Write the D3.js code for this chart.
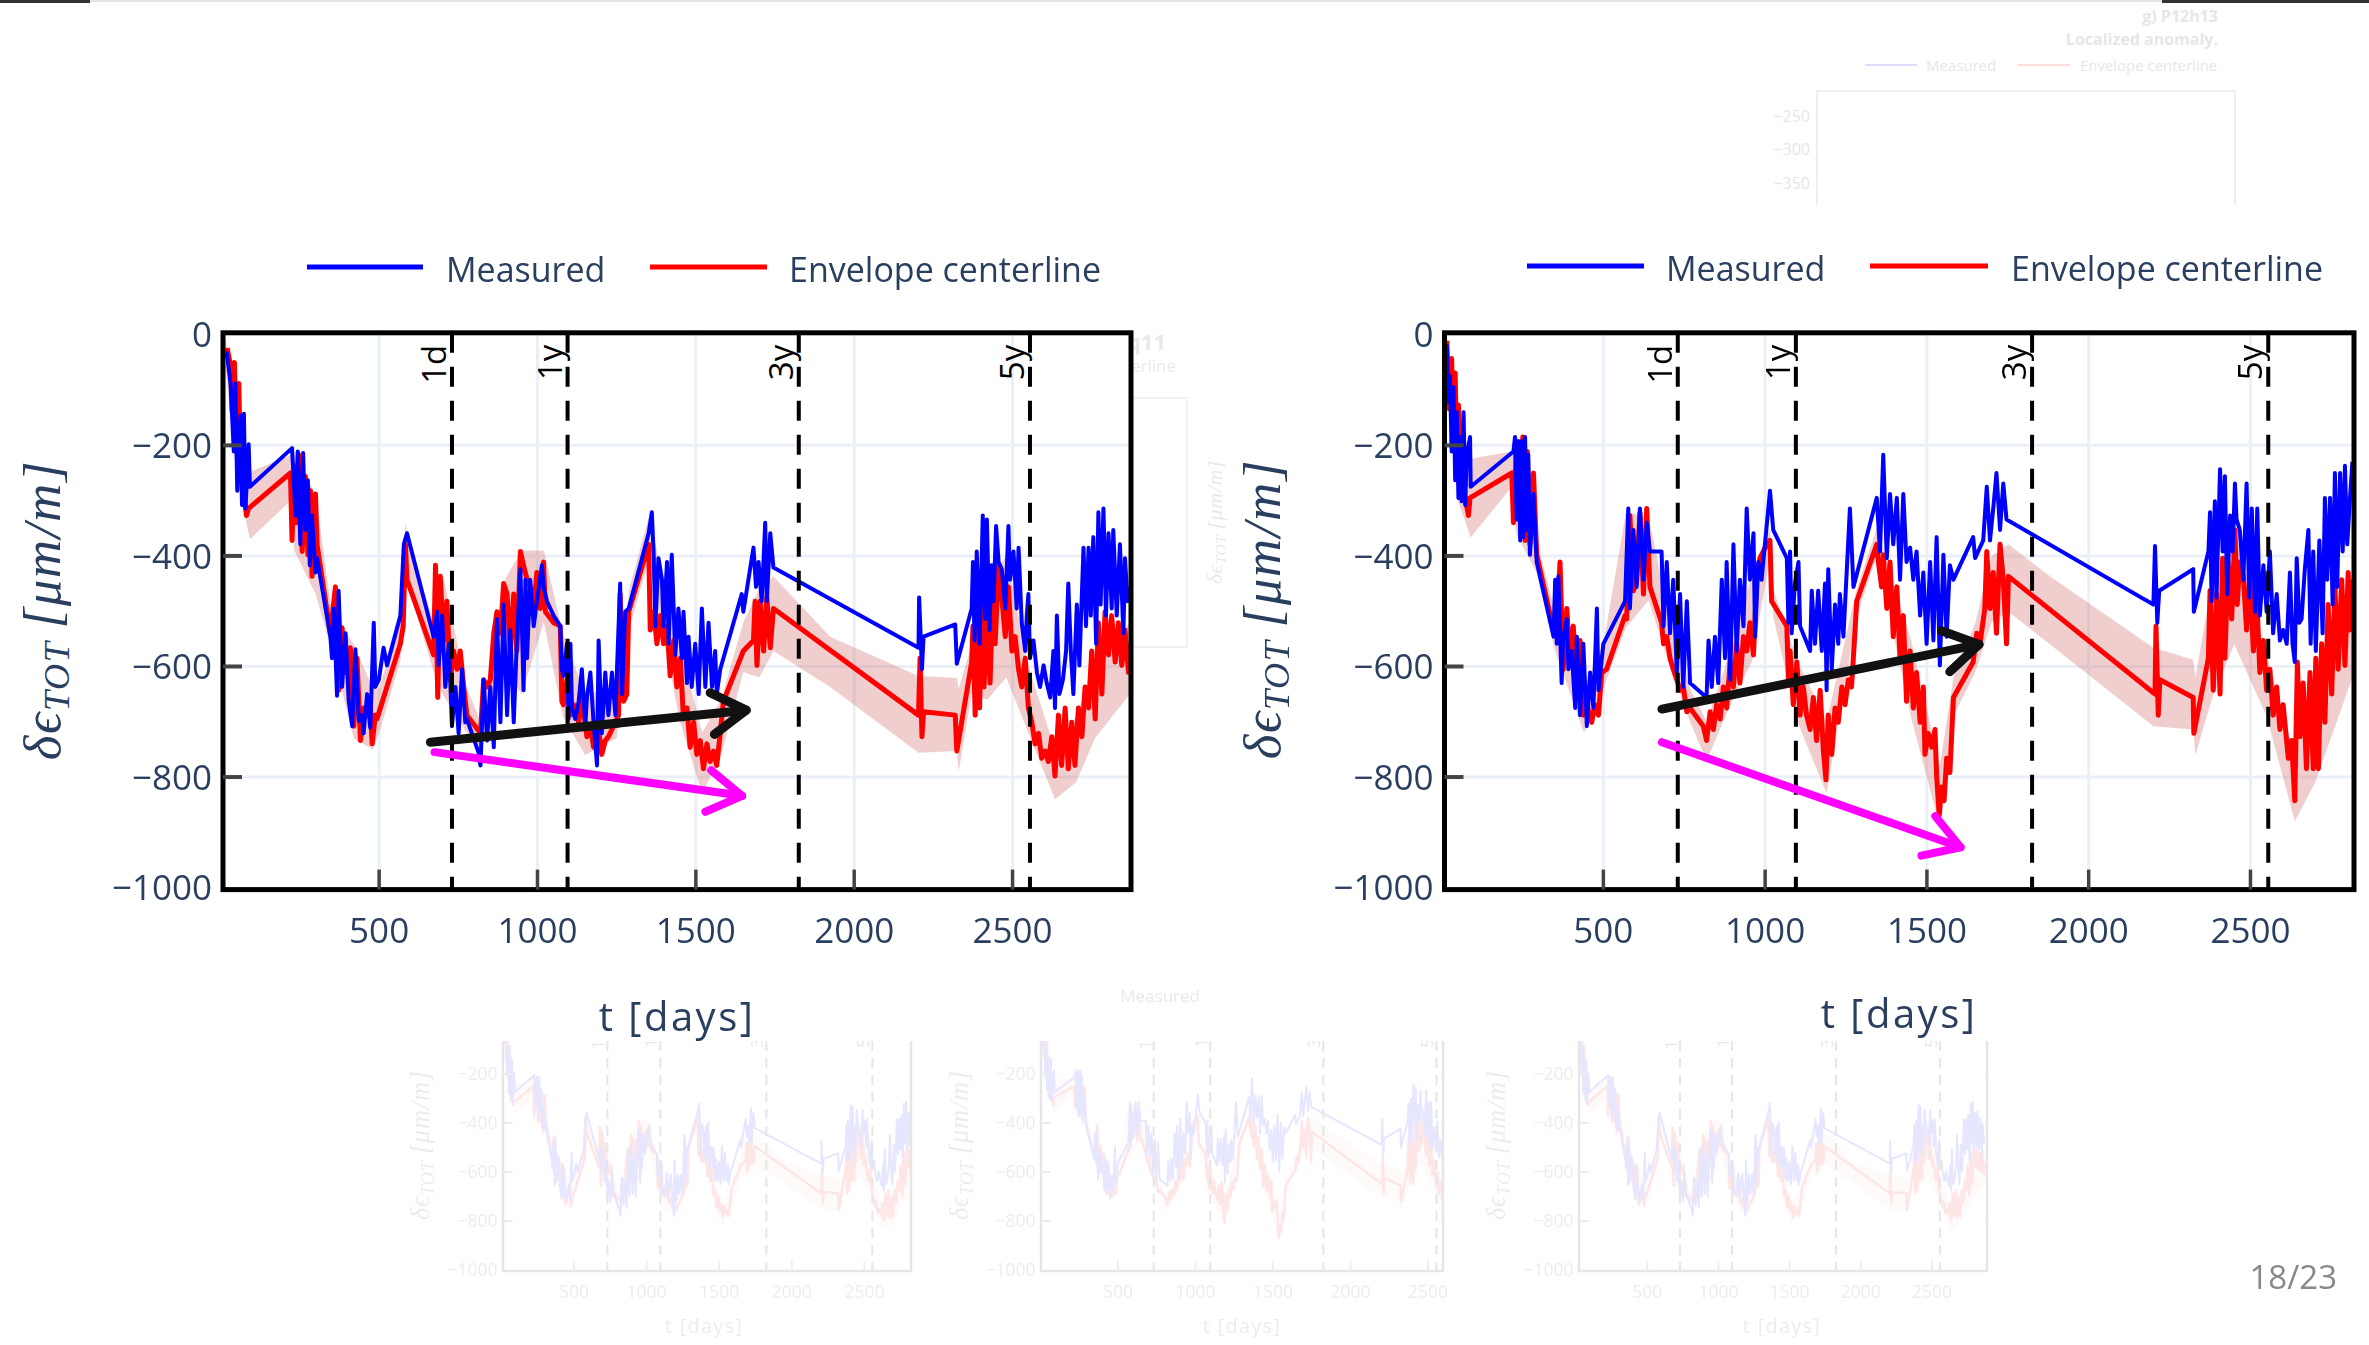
<!DOCTYPE html>
<html>
<head>
<meta charset="utf-8">
<title>Measured vs envelope centerline</title>
<script src="https://cdn.jsdelivr.net/npm/d3@7"></script>
<style>
  body { margin: 0; background: #fff; }
  text { font-family: 'Open Sans', sans-serif; }
</style>
</head>
<body>
<svg id="slide" width="2369" height="1345"></svg>
<script>
// ---------- data (t in days, strain in um/m) ----------
var leftMeasured = [[18,-30],[31,-88],[41,-211],[46,-88],[52,-282],[62,-146],[67,-308],[73,-143],[78,-314],[88,-198],[92,-275],[225,-205],[236,-327],[243,-211],[251,-379],[260,-214],[267,-353],[275,-263],[281,-417],[288,-327],[299,-430],[304,-404],[346,-546],[351,-585],[357,-495],[367,-653],[372,-463],[383,-637],[394,-540],[404,-663],[415,-708],[425,-569],[436,-698],[446,-688],[451,-721],[462,-650],[472,-711],[483,-521],[488,-637],[499,-624],[514,-566],[525,-598],[567,-508],[578,-379],[588,-359],[672,-546],[683,-501],[688,-598],[699,-508],[709,-637],[720,-559],[730,-708],[741,-637],[751,-721],[762,-605],[772,-701],[777,-695],[814,-756],[820,-779],[830,-624],[841,-734],[851,-637],[862,-746],[872,-514],[883,-701],[893,-488],[904,-688],[914,-534],[925,-701],[935,-553],[946,-424],[956,-643],[962,-443],[967,-585],[977,-443],[988,-527],[998,-482],[1014,-417],[1019,-456],[1030,-482],[1051,-508],[1072,-527],[1077,-605],[1082,-617],[1093,-559],[1098,-695],[1104,-559],[1109,-675],[1119,-695],[1130,-663],[1140,-605],[1151,-708],[1156,-656],[1167,-611],[1177,-701],[1188,-779],[1193,-553],[1203,-721],[1214,-611],[1224,-688],[1235,-611],[1246,-688],[1251,-605],[1261,-450],[1267,-650],[1277,-501],[1288,-495],[1351,-359],[1361,-321],[1367,-398],[1372,-527],[1382,-404],[1393,-443],[1398,-527],[1409,-411],[1414,-559],[1424,-398],[1435,-579],[1445,-495],[1456,-585],[1461,-501],[1472,-630],[1477,-546],[1487,-637],[1498,-559],[1509,-650],[1519,-495],[1530,-637],[1540,-521],[1551,-637],[1561,-572],[1566,-650],[1577,-605],[1645,-469],[1650,-501],[1682,-385],[1690,-456],[1698,-411],[1708,-482],[1719,-340],[1724,-482],[1735,-359],[1745,-421],[2203,-566],[2205,-475],[2214,-605],[2219,-546],[2319,-524],[2324,-595],[2371,-495],[2375,-411],[2380,-553],[2387,-392],[2396,-559],[2406,-327],[2413,-514],[2419,-334],[2427,-534],[2434,-417],[2440,-482],[2448,-346],[2456,-411],[2466,-424],[2477,-495],[2487,-346],[2492,-443],[2503,-392],[2513,-495],[2519,-385],[2529,-521],[2540,-572],[2545,-508],[2550,-469],[2555,-585],[2566,-553],[2577,-611],[2587,-637],[2598,-598],[2608,-630],[2619,-656],[2629,-572],[2634,-675],[2640,-508],[2648,-650],[2659,-624],[2669,-572],[2676,-450],[2684,-572],[2692,-650],[2703,-488],[2711,-598],[2724,-385],[2732,-527],[2740,-385],[2747,-508],[2755,-366],[2764,-559],[2771,-321],[2778,-488],[2787,-314],[2795,-508],[2803,-359],[2813,-495],[2818,-353],[2829,-508],[2839,-379],[2850,-540],[2855,-404],[2863,-482],[2871,-456]];

var leftEnvelope = [[20,-24],[31,-56],[36,-140],[43,-50],[50,-205],[57,-88],[62,-237],[67,-172],[75,-295],[81,-327],[88,-314],[220,-250],[225,-372],[233,-237],[239,-340],[246,-217],[257,-392],[267,-256],[275,-398],[283,-282],[288,-437],[299,-288],[304,-379],[346,-540],[362,-456],[372,-643],[383,-530],[394,-611],[409,-566],[420,-708],[430,-585],[441,-734],[451,-675],[462,-688],[472,-669],[478,-740],[488,-688],[493,-695],[567,-559],[576,-527],[583,-379],[588,-443],[672,-579],[678,-417],[685,-656],[693,-437],[704,-553],[714,-482],[725,-624],[735,-572],[746,-605],[756,-572],[767,-637],[777,-688],[820,-721],[830,-624],[841,-637],[851,-624],[862,-540],[872,-501],[883,-540],[893,-450],[904,-469],[914,-572],[925,-469],[935,-572],[946,-392],[956,-417],[967,-443],[977,-456],[988,-495],[998,-430],[1009,-495],[1019,-411],[1025,-501],[1051,-521],[1072,-527],[1077,-663],[1082,-669],[1093,-624],[1104,-688],[1114,-669],[1130,-701],[1140,-656],[1156,-727],[1167,-708],[1177,-746],[1193,-714],[1203,-759],[1214,-734],[1224,-727],[1235,-714],[1246,-701],[1256,-688],[1261,-469],[1272,-663],[1282,-650],[1288,-501],[1351,-379],[1356,-534],[1367,-501],[1377,-559],[1388,-508],[1398,-559],[1409,-527],[1419,-617],[1430,-553],[1440,-637],[1451,-585],[1461,-695],[1472,-675],[1482,-746],[1493,-701],[1503,-759],[1514,-734],[1524,-785],[1535,-740],[1545,-772],[1556,-753],[1566,-779],[1577,-721],[1587,-663],[1650,-572],[1682,-553],[1687,-482],[1693,-598],[1703,-482],[1714,-572],[1724,-475],[1735,-566],[1745,-495],[2203,-688],[2208,-585],[2214,-727],[2219,-682],[2319,-688],[2324,-753],[2371,-592],[2375,-527],[2382,-688],[2389,-527],[2396,-675],[2403,-482],[2410,-637],[2419,-508],[2429,-630],[2438,-456],[2445,-559],[2456,-417],[2466,-475],[2477,-546],[2487,-456],[2498,-572],[2508,-546],[2519,-605],[2529,-637],[2540,-585],[2550,-675],[2561,-701],[2571,-740],[2582,-721],[2592,-766],[2603,-753],[2613,-772],[2624,-727],[2634,-798],[2645,-688],[2655,-779],[2666,-675],[2676,-785],[2687,-701],[2697,-779],[2708,-675],[2719,-727],[2729,-637],[2740,-675],[2750,-572],[2761,-695],[2771,-521],[2782,-650],[2792,-501],[2803,-579],[2813,-508],[2824,-592],[2834,-521],[2845,-598],[2855,-534],[2866,-611],[2871,-559]];

// envelope band: [t, lower, upper]
var leftBand = [[15,-60,-5],[50,-260,-120],[92,-370,-248],[220,-300,-218],[232,-390,-215],[300,-470,-290],[350,-570,-500],[420,-730,-560],[480,-750,-640],[500,-720,-640],[567,-590,-510],[583,-430,-340],[600,-470,-390],[672,-610,-520],[700,-650,-430],[777,-720,-640],[820,-745,-700],[900,-610,-440],[950,-650,-390],[1020,-520,-390],[1080,-690,-540],[1150,-760,-650],[1250,-730,-640],[1290,-530,-460],[1351,-410,-330],[1450,-700,-560],[1520,-830,-720],[1580,-760,-660],[1650,-610,-520],[1700,-620,-460],[1745,-572,-437],[1924,-637,-546],[2203,-756,-617],[2324,-753,-621],[2330,-790,-640],[2371,-650,-560],[2420,-660,-450],[2480,-620,-400],[2550,-720,-600],[2634,-840,-750],[2700,-810,-690],[2760,-730,-600],[2871,-650,-520]];

var rightMeasured = [[16,-17],[21,-121],[26,-75],[31,-211],[37,-95],[42,-263],[47,-140],[52,-295],[57,-185],[62,-301],[68,-140],[73,-308],[78,-217],[88,-185],[90,-275],[222,-211],[227,-185],[232,-334],[237,-192],[243,-372],[248,-192],[253,-366],[258,-185],[263,-353],[268,-217],[273,-398],[284,-288],[294,-411],[346,-546],[351,-443],[356,-559],[361,-437],[371,-630],[376,-546],[387,-514],[392,-605],[402,-572],[413,-675],[418,-546],[428,-688],[438,-559],[449,-708],[459,-611],[469,-675],[480,-495],[485,-643],[500,-559],[567,-482],[577,-314],[582,-495],[593,-353],[603,-456],[613,-314],[624,-443],[634,-340],[644,-392],[680,-392],[686,-527],[696,-411],[706,-540],[716,-443],[727,-611],[737,-469],[747,-637],[758,-482],[768,-630],[819,-656],[825,-553],[835,-637],[845,-546],[855,-630],[866,-443],[876,-585],[881,-411],[892,-624],[902,-379],[912,-572],[922,-443],[933,-527],[943,-314],[953,-443],[964,-359],[969,-546],[979,-411],[989,-443],[1015,-282],[1025,-353],[1067,-404],[1072,-521],[1077,-392],[1082,-540],[1092,-450],[1103,-411],[1108,-527],[1139,-572],[1144,-463],[1154,-559],[1164,-463],[1175,-572],[1185,-450],[1190,-643],[1195,-424],[1206,-605],[1216,-488],[1226,-559],[1231,-469],[1242,-546],[1252,-430],[1262,-314],[1273,-456],[1345,-295],[1355,-392],[1365,-217],[1376,-404],[1386,-288],[1396,-379],[1407,-295],[1417,-443],[1427,-288],[1437,-411],[1448,-385],[1458,-443],[1468,-392],[1479,-508],[1489,-430],[1499,-559],[1510,-411],[1520,-553],[1530,-366],[1540,-598],[1551,-398],[1561,-546],[1571,-417],[1582,-443],[1643,-366],[1649,-404],[1674,-372],[1685,-275],[1695,-372],[1705,-314],[1715,-250],[1726,-353],[1736,-269],[1746,-334],[2200,-488],[2205,-382],[2212,-521],[2218,-463],[2323,-424],[2325,-501],[2370,-392],[2375,-321],[2380,-482],[2390,-301],[2395,-475],[2406,-243],[2414,-392],[2421,-256],[2428,-469],[2437,-327],[2445,-392],[2452,-269],[2457,-334],[2467,-353],[2478,-443],[2488,-269],[2496,-475],[2504,-314],[2514,-501],[2521,-314],[2529,-508],[2540,-417],[2550,-501],[2560,-392],[2570,-540],[2581,-469],[2591,-553],[2601,-534],[2612,-559],[2622,-430],[2630,-559],[2637,-592],[2643,-404],[2651,-521],[2658,-514],[2668,-424],[2679,-353],[2686,-559],[2694,-392],[2702,-572],[2713,-372],[2723,-540],[2730,-295],[2737,-443],[2746,-295],[2754,-488],[2761,-250],[2768,-456],[2777,-250],[2785,-392],[2792,-237],[2799,-379],[2807,-301],[2815,-230]];

var rightEnvelope = [[16,-11],[24,-134],[31,-43],[37,-172],[42,-69],[47,-224],[52,-127],[62,-275],[73,-295],[83,-327],[88,-295],[217,-250],[222,-340],[232,-205],[241,-327],[251,-185],[258,-372],[265,-211],[273,-379],[284,-250],[294,-398],[346,-534],[356,-540],[366,-411],[376,-605],[387,-495],[397,-592],[407,-527],[418,-637],[428,-553],[438,-688],[449,-669],[464,-701],[474,-669],[485,-688],[495,-611],[510,-605],[567,-508],[572,-514],[582,-327],[593,-463],[603,-443],[613,-321],[624,-469],[634,-314],[644,-456],[680,-521],[686,-559],[696,-546],[706,-585],[716,-605],[727,-624],[737,-643],[747,-637],[758,-682],[768,-675],[809,-708],[819,-734],[830,-682],[840,-714],[850,-669],[861,-695],[871,-637],[881,-675],[892,-592],[902,-637],[912,-559],[922,-630],[933,-546],[943,-572],[953,-521],[964,-579],[974,-443],[984,-404],[1005,-379],[1015,-372],[1020,-482],[1067,-527],[1072,-624],[1077,-572],[1087,-669],[1098,-592],[1108,-688],[1118,-637],[1128,-688],[1139,-714],[1149,-656],[1159,-734],[1170,-643],[1180,-753],[1188,-805],[1195,-688],[1206,-759],[1216,-675],[1226,-701],[1237,-637],[1247,-669],[1257,-624],[1267,-637],[1278,-534],[1283,-482],[1345,-379],[1350,-411],[1360,-456],[1365,-398],[1376,-495],[1386,-411],[1396,-546],[1407,-456],[1417,-585],[1427,-508],[1437,-663],[1448,-572],[1458,-675],[1468,-611],[1479,-701],[1489,-637],[1494,-759],[1504,-721],[1515,-746],[1525,-714],[1530,-798],[1538,-869],[1546,-818],[1553,-843],[1561,-766],[1571,-792],[1582,-656],[1643,-592],[1654,-540],[1664,-559],[1679,-495],[1685,-392],[1695,-495],[1705,-430],[1715,-540],[1726,-379],[1736,-443],[1746,-559],[1752,-437],[2205,-650],[2208,-527],[2215,-688],[2220,-624],[2323,-656],[2325,-721],[2370,-585],[2375,-463],[2385,-643],[2395,-469],[2406,-650],[2414,-404],[2421,-585],[2431,-411],[2442,-514],[2452,-353],[2459,-488],[2467,-411],[2478,-437],[2488,-534],[2498,-437],[2509,-572],[2519,-469],[2529,-611],[2540,-553],[2550,-643],[2560,-605],[2570,-688],[2581,-637],[2591,-714],[2601,-669],[2617,-766],[2627,-734],[2637,-843],[2645,-592],[2653,-727],[2663,-630],[2673,-785],[2684,-611],[2694,-785],[2702,-585],[2710,-785],[2720,-559],[2730,-701],[2740,-488],[2751,-650],[2761,-456],[2771,-605],[2782,-443],[2792,-598],[2802,-430],[2807,-534],[2815,-443]];

var rightBand = [[16,-40,0],[50,-300,-130],[90,-366,-224],[217,-275,-211],[230,-360,-190],[294,-430,-370],[350,-570,-500],[440,-720,-640],[500,-640,-560],[570,-530,-320],[640,-480,-330],[700,-590,-500],[768,-700,-640],[819,-770,-700],[900,-660,-560],[960,-590,-430],[1015,-400,-350],[1025,-510,-460],[1100,-700,-590],[1190,-830,-700],[1283,-510,-460],[1345,-400,-350],[1450,-690,-550],[1540,-890,-780],[1582,-690,-620],[1650,-610,-520],[1700,-520,-400],[1752,-501,-379],[1880,-560,-437],[2200,-708,-566],[2323,-714,-588],[2330,-760,-620],[2380,-660,-450],[2450,-560,-350],[2550,-690,-580],[2637,-880,-760],[2700,-810,-620],[2815,-620,-430]];

// trend arrows drawn on the slide: [t0, v0, t1, v1]
var leftArrows = [[662,-737,1659,-679],[675,-755,1646,-834]];
var rightArrows = [[681,-677,1661,-560],[681,-737,1604,-927]];
var arrowColors = ['#111111', '#ff00ff'];

var ticksX = [500, 1000, 1500, 2000, 2500];
var ticksY = [0, -200, -400, -600, -800, -1000];
var markerDays = [730, 1095, 1825, 2555];
var markerNames = ['1d', '1y', '3y', '5y'];
var seriesNames = ['Measured', 'Envelope centerline'];
var seriesColors = ['#0000ff', '#ff0000'];
var ghostTicks = [-250, -300, -350];

var svg = d3.select('#slide');
var clipCount = 0;
var ink = '#2a3f5f';

function makeClip(x, y, w, h) {
  var id = 'clip' + (clipCount++);
  svg.append('clipPath').attr('id', id).append('rect')
    .attr('x', x).attr('y', y).attr('width', w).attr('height', h);
  return 'url(#' + id + ')';
}

function yTitle(g, cx, cy, size) {
  var t = g.append('text')
    .attr('transform', 'translate(' + (cx + 0.3 * size) + ',' + cy + ') rotate(-90)')
    .attr('text-anchor', 'middle').attr('font-size', size).attr('fill', ink)
    .attr('letter-spacing', size * 0.03)
    .style('font-family', "'Liberation Serif', 'DejaVu Serif', serif").style('font-style', 'italic');
  t.append('tspan').text('\u03b4\u03f5');
  t.append('tspan').attr('font-size', size * 0.68).attr('dy', size * 0.18).text('TOT');
  t.append('tspan').attr('dy', -size * 0.18).text('\u2009[\u03bcm/m]');
}

function drawChart(root, c) {
  var k = c.k;
  var x = d3.scaleLinear().domain(c.t).range(c.px);
  var y = d3.scaleLinear().domain([-1000, 0]).range(c.py);
  var top = c.py[1] - 2 * k, bottom = c.py[0] + 2 * k;
  var w = c.px[1] - c.px[0];
  var g = root.append('g');

  g.append('rect').attr('x', c.px[0]).attr('y', top).attr('width', w)
    .attr('height', bottom - top).attr('fill', '#fff');

  // grid
  g.append('g').selectAll('line').data(ticksX).enter().append('line')
    .attr('x1', d => x(d)).attr('x2', d => x(d)).attr('y1', top).attr('y2', bottom)
    .attr('stroke', '#ebf0f8').attr('stroke-width', 3 * k);
  g.append('g').selectAll('line').data(ticksY.slice(1, -1)).enter().append('line')
    .attr('x1', c.px[0]).attr('x2', c.px[1]).attr('y1', d => y(d)).attr('y2', d => y(d))
    .attr('stroke', '#ebf0f8').attr('stroke-width', 3 * k);

  // band + series
  var inner = g.append('g').attr('clip-path', makeClip(c.px[0], top, w, bottom - top));
  var area = d3.area().x(d => x(d[0])).y0(d => y(d[1])).y1(d => y(d[2]));
  var line = d3.line().x(d => x(d[0])).y(d => y(d[1]));
  inner.append('path').datum(c.band).attr('d', area).attr('fill', 'rgba(205,92,92,0.3)');
  inner.append('path').datum(c.envelope).attr('d', line).attr('fill', 'none')
    .attr('stroke', seriesColors[1]).attr('stroke-width', 5 * k).attr('stroke-linejoin', 'round');
  inner.append('path').datum(c.measured).attr('d', line).attr('fill', 'none')
    .attr('stroke', seriesColors[0]).attr('stroke-width', 4 * k).attr('stroke-linejoin', 'round');

  // time markers
  g.append('g').selectAll('line').data(markerDays).enter().append('line')
    .attr('x1', d => x(d)).attr('x2', d => x(d)).attr('y1', top).attr('y2', bottom)
    .attr('stroke', '#000').attr('stroke-width', 4 * k)
    .attr('stroke-dasharray', (20 * k) + ',' + (14 * k));
  g.append('g').selectAll('text').data(markerDays).enter().append('text')
    .attr('transform', d => 'translate(' + (x(d) - 6 * k) + ',' + (top + 12 * k) + ') rotate(-90)')
    .attr('text-anchor', 'end').attr('font-size', 33 * k).attr('fill', '#000')
    .text((d, i) => markerNames[i]);

  // frame and inside ticks
  g.append('rect').attr('x', c.px[0]).attr('y', top).attr('width', w).attr('height', bottom - top)
    .attr('fill', 'none').attr('stroke', '#000').attr('stroke-width', 5 * k);
  g.append('g').selectAll('line').data(ticksY.slice(1, -1)).enter().append('line')
    .attr('x1', c.px[0]).attr('x2', c.px[0] + 19 * k).attr('y1', d => y(d)).attr('y2', d => y(d))
    .attr('stroke', '#444').attr('stroke-width', 4 * k);
  g.append('g').selectAll('line').data(ticksX).enter().append('line')
    .attr('x1', d => x(d)).attr('x2', d => x(d)).attr('y1', bottom).attr('y2', bottom - 20 * k)
    .attr('stroke', '#444').attr('stroke-width', 3.5 * k);

  // tick labels
  g.append('g').selectAll('text').data(ticksY).enter().append('text')
    .attr('x', c.px[0] - 11 * k).attr('y', d => y(d)).attr('dy', '0.36em')
    .attr('text-anchor', 'end').attr('font-size', 35 * k).attr('fill', ink)
    .text(d => d === 0 ? '0' : '\u2212' + Math.abs(d));
  g.append('g').selectAll('text').data(ticksX).enter().append('text')
    .attr('x', d => x(d)).attr('y', bottom + 53 * k)
    .attr('text-anchor', 'middle').attr('font-size', 35 * k).attr('fill', ink)
    .text(d => d);

  // axis titles
  g.append('text').attr('x', c.titleX).attr('y', c.titleY)
    .attr('text-anchor', 'middle').attr('font-size', 40 * k).attr('fill', ink)
    .attr('letter-spacing', 2.5 * k).text('t [days]');
  yTitle(g, c.yTitleX, c.yTitleY, 53 * k);

  // arrows
  (c.arrows || []).forEach(function(a, i) {
    var x0 = x(a[0]), y0 = y(a[1]), x1 = x(a[2]), y1 = y(a[3]);
    var ang = Math.atan2(y1 - y0, x1 - x0), L = 40, s = 0.55;
    var pts = [[x1 + L * Math.cos(ang + Math.PI - s), y1 + L * Math.sin(ang + Math.PI - s)],
               [x1, y1],
               [x1 + L * Math.cos(ang + Math.PI + s), y1 + L * Math.sin(ang + Math.PI + s)]];
    var ag = g.append('g').attr('stroke', arrowColors[i]).attr('fill', 'none')
      .attr('stroke-width', i === 0 ? 9 : 8).attr('stroke-linecap', 'round').attr('stroke-linejoin', 'round');
    ag.append('line').attr('x1', x0).attr('y1', y0).attr('x2', x1).attr('y2', y1);
    ag.append('path').attr('d', d3.line()(pts));
  });
}

function drawLegend(lx, tx, ly, tb, k, root) {
  var g = root.append('g');
  seriesNames.forEach(function(name, i) {
    g.append('line').attr('x1', lx[i][0]).attr('x2', lx[i][1]).attr('y1', ly).attr('y2', ly)
      .attr('stroke', seriesColors[i]).attr('stroke-width', 5 * k);
    g.append('text').attr('x', tx[i]).attr('y', tb).attr('font-size', 34 * k).attr('fill', ink).text(name);
  });
}

// ---------- slide header lines ----------
svg.append('rect').attr('x', 90).attr('y', 0).attr('width', 2072).attr('height', 2).attr('fill', '#e4e4e4');
svg.append('rect').attr('x', 0).attr('y', 0).attr('width', 90).attr('height', 3).attr('fill', '#333');
svg.append('rect').attr('x', 2162).attr('y', 0).attr('width', 207).attr('height', 3).attr('fill', '#333');

// ---------- faded figures left over behind the slide ----------
var ghostBottom = svg.append('g').attr('opacity', 0.1).attr('clip-path', makeClip(0, 1041, 2369, 304));
drawChart(ghostBottom, {k: 0.5, px: [503, 911], t: [11, 2821], py: [1270, 1025],
  measured: leftMeasured, envelope: leftEnvelope, band: leftBand,
  titleX: 704, titleY: 1333, yTitleX: 421, yTitleY: 1145});
drawChart(ghostBottom, {k: 0.5, px: [1041, 1443], t: [3, 2597], py: [1270, 1025],
  measured: rightMeasured, envelope: rightEnvelope, band: rightBand,
  titleX: 1242, titleY: 1333, yTitleX: 960, yTitleY: 1145});
drawChart(ghostBottom, {k: 0.5, px: [1579, 1987], t: [21, 2886], py: [1270, 1025],
  measured: leftMeasured, envelope: leftEnvelope, band: leftBand,
  titleX: 1782, titleY: 1333, yTitleX: 1497, yTitleY: 1145});

var ghostTop = svg.append('g').attr('opacity', 0.13).attr('clip-path', makeClip(0, 0, 2369, 205));
ghostTop.append('text').attr('x', 2218).attr('y', 22).attr('text-anchor', 'end')
  .attr('font-size', 16).attr('font-weight', 'bold').attr('fill', '#444').text('g) P12h13');
ghostTop.append('text').attr('x', 2218).attr('y', 45).attr('text-anchor', 'end')
  .attr('font-size', 16).attr('font-weight', 'bold').attr('fill', '#444').text('Localized anomaly.');
drawLegend([[1865, 1917], [2018, 2070]], [1926, 2080], 65, 71, 0.44, ghostTop);
ghostTop.append('rect').attr('x', 1817).attr('y', 91).attr('width', 418).attr('height', 300)
  .attr('fill', 'none').attr('stroke', '#888').attr('stroke-width', 2);
var gy = d3.scaleLinear().domain([-350, -250]).range([183, 116]);
ghostTop.selectAll('.gt').data(ghostTicks).enter().append('text')
  .attr('x', 1810).attr('y', d => gy(d)).attr('dy', '0.35em').attr('text-anchor', 'end')
  .attr('font-size', 16).attr('fill', ink).text(d => '\u2212' + Math.abs(d));

var ghostMid = svg.append('g').attr('opacity', 0.12);
ghostMid.append('text').attr('x', 1166).attr('y', 350).attr('text-anchor', 'end')
  .attr('font-size', 22).attr('font-weight', 'bold').attr('fill', '#444').text('P12q11');
ghostMid.append('text').attr('x', 1176).attr('y', 372).attr('text-anchor', 'end')
  .attr('font-size', 17).attr('fill', '#444').text(seriesNames[1]);
ghostMid.append('rect').attr('x', 1090).attr('y', 398).attr('width', 97).attr('height', 249)
  .attr('fill', 'none').attr('stroke', '#888').attr('stroke-width', 2);
yTitle(ghostMid, 1215, 522, 22);
ghostMid.append('text').attr('x', 1200).attr('y', 1002).attr('text-anchor', 'end')
  .attr('font-size', 17).attr('fill', '#444').text(seriesNames[0]);

// ---------- main charts ----------
drawChart(svg, {k: 1, px: [223, 1131], t: [7, 2874], py: [887.6, 334.8],
  measured: leftMeasured, envelope: leftEnvelope, band: leftBand, arrows: leftArrows,
  titleX: 677, titleY: 1031, yTitleX: 44, yTitleY: 610});
drawChart(svg, {k: 1, px: [1444.5, 2354], t: [9, 2820], py: [887.6, 334.8],
  measured: rightMeasured, envelope: rightEnvelope, band: rightBand, arrows: rightArrows,
  titleX: 1899, titleY: 1028, yTitleX: 1264, yTitleY: 609});

drawLegend([[307, 423], [650, 767]], [446, 789], 267, 282, 1, svg);
drawLegend([[1527, 1644], [1870, 1988]], [1666, 2011], 266, 281, 1, svg);

svg.append('text').attr('x', 2337).attr('y', 1289).attr('text-anchor', 'end')
  .attr('font-size', 33).attr('fill', '#888').text('18/23');
</script>
</body>
</html>
